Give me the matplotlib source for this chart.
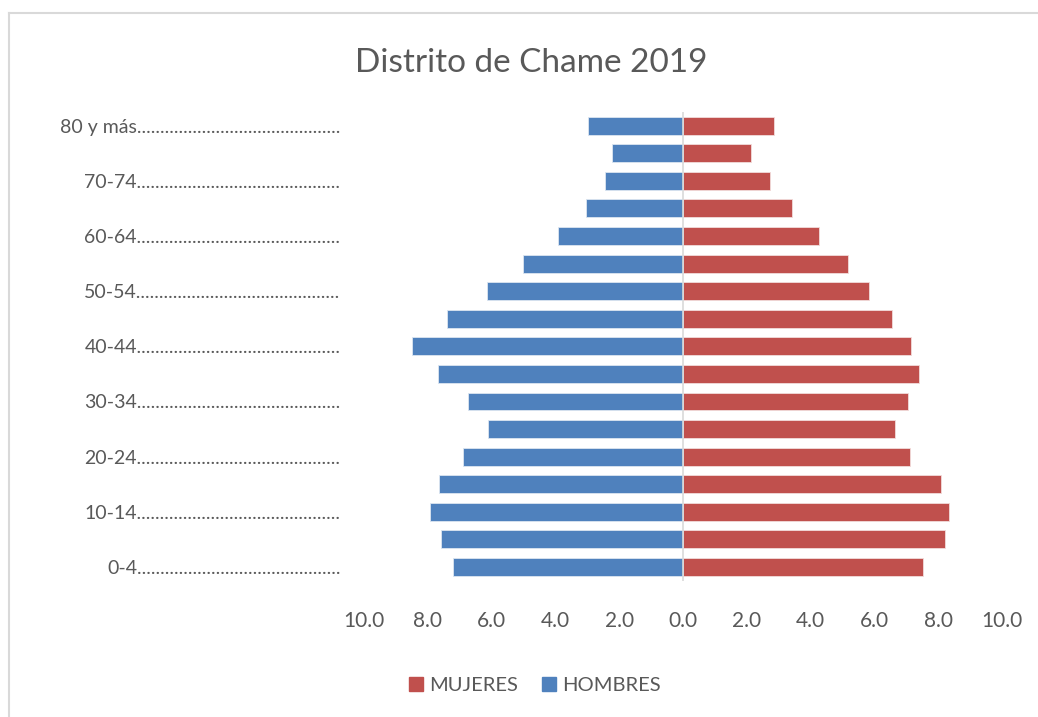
import matplotlib
matplotlib.use("Agg")
import matplotlib.pyplot as plt
import numpy as np
from matplotlib.lines import Line2D
from matplotlib.patches import Patch

plt.rcParams['font.family'] = ['Lato', 'DejaVu Sans']

# grupos de edad, de abajo hacia arriba
grupos = ["0-4", "5-9", "10-14", "15-19", "20-24", "25-29", "30-34", "35-39",
          "40-44", "45-49", "50-54", "55-59", "60-64", "65-69", "70-74",
          "75-79", "80 y más"]
mujeres = [7.52, 8.21, 8.33, 8.08, 7.11, 6.64, 7.04, 7.39, 7.14, 6.54,
           5.82, 5.16, 4.25, 3.43, 2.74, 2.14, 2.86]
hombres = [7.20, 7.58, 7.92, 7.64, 6.89, 6.10, 6.73, 7.67, 8.49, 7.39,
           6.16, 5.03, 3.93, 3.05, 2.45, 2.23, 2.99]
ticks = [-10, -8, -6, -4, -2, 0, 2, 4, 6, 8, 10]

azul = "#4F81BD"
rojo = "#C0504D"
gris = "#595959"

fig = plt.figure(figsize=(10.38, 7.17), dpi=100)
ax = fig.add_axes([0.3507, 0.19, 0.6146, 0.654])

y = np.arange(len(grupos))
ax.barh(y, mujeres, height=0.65, color=rojo, edgecolor="#F2DCDB", linewidth=0.6, zorder=2)
ax.barh(y, [-h for h in hombres], height=0.65, color=azul, edgecolor="#DCE6F1", linewidth=0.6, zorder=2)
ax.axvline(0, color="#D9D9D9", linewidth=1.2, zorder=3)

ax.set_xlim(-10, 10)
ax.set_ylim(-0.5, len(grupos) - 0.5)
ax.set_xticks(ticks)
ax.set_xticklabels(["%.1f" % abs(t) for t in ticks], fontsize=15, color=gris)
ax.set_yticks(y[::2])
ax.set_yticklabels([g + "." * 44 for g in grupos[::2]], fontsize=14, color=gris)
ax.tick_params(axis="both", length=0)
ax.tick_params(axis="x", pad=22)
ax.tick_params(axis="y", pad=17)
for s in ax.spines.values():
    s.set_visible(False)

fig.text(0.512, 0.912, "Distrito de Chame 2019", ha="center", va="center",
         fontsize=24, color=gris)

handles = [Patch(color=rojo, label="MUJERES"), Patch(color=azul, label="HOMBRES")]
fig.legend(handles=handles, loc="center", bbox_to_anchor=(0.515, 0.044), ncol=2,
           frameon=False, fontsize=14.5, labelcolor=gris, handlelength=0.7,
           handleheight=0.7, handletextpad=0.3, columnspacing=1.2)

# marco del grafico (solo arriba e izquierda)
fig.add_artist(Line2D([9 / 1038, 1], [1 - 13 / 717, 1 - 13 / 717], color="#D9D9D9", linewidth=1.5))
fig.add_artist(Line2D([9 / 1038, 9 / 1038], [0, 1 - 13 / 717], color="#D9D9D9", linewidth=1.5))

fig.savefig("out.png", dpi=100)
